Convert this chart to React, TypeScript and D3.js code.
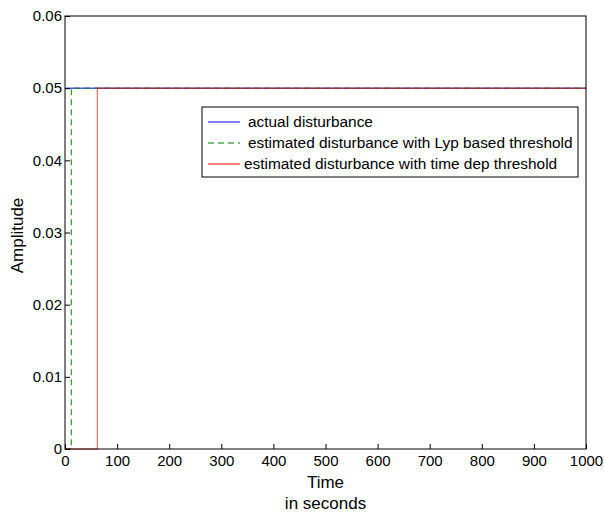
import * as d3 from "d3";
import { useEffect, useRef } from "react";

// step signals: [time, amplitude]
const actualDisturbance: [number, number][] = [[0, 0.05], [1000, 0.05]];
const lypEstimate: [number, number][] = [[0, 0], [12, 0], [12, 0.05], [1000, 0.05]];
const timeDepEstimate: [number, number][] = [[0, 0], [62, 0], [62, 0.05], [1000, 0.05]];

const xTicks = [0, 100, 200, 300, 400, 500, 600, 700, 800, 900, 1000];
const yTicks = [0, 0.01, 0.02, 0.03, 0.04, 0.05, 0.06];

const legendLabels = [
    "actual disturbance",
    "estimated disturbance with Lyp based threshold",
    "estimated disturbance with time dep threshold",
];

export default function App() {
    const svgRef = useRef<SVGSVGElement>(null);

    useEffect(() => {
        const svg = d3.select(svgRef.current);
        svg.selectAll("*").remove();

        const width = 604;
        const height = 515;
        const margin = { top: 16, right: 18, bottom: 66, left: 65 };
        const font = "Liberation Sans, Arial, sans-serif";

        const x = d3.scaleLinear()
            .domain([0, 1000])
            .range([margin.left, width - margin.right]);

        const y = d3.scaleLinear()
            .domain([0, 0.06])
            .range([height - margin.bottom, margin.top]);

        svg.append("rect")
            .attr("width", width)
            .attr("height", height)
            .attr("fill", "white");

        // Lines
        const line = d3.line<[number, number]>()
            .x(d => x(d[0]))
            .y(d => y(d[1]));

        svg.append("path")
            .datum(actualDisturbance)
            .attr("d", line)
            .attr("fill", "none")
            .attr("stroke", "#0000ff")
            .attr("stroke-width", 1);

        svg.append("path")
            .datum(lypEstimate)
            .attr("d", line)
            .attr("fill", "none")
            .attr("stroke", "#008000")
            .attr("stroke-dasharray", "6,4")
            .attr("stroke-width", 1);

        svg.append("path")
            .datum(timeDepEstimate)
            .attr("d", line)
            .attr("fill", "none")
            .attr("stroke", "#ff0000")
            .attr("stroke-opacity", 0.7)
            .attr("stroke-width", 1);

        // Axes
        svg.append("g")
            .attr("transform", `translate(0,${height - margin.bottom})`)
            .call(d3.axisBottom(x).tickValues(xTicks).tickSizeInner(-5).tickSizeOuter(0).tickPadding(6).tickFormat(d3.format("d")))
            .call(g => g.select(".domain").remove())
            .call(g => g.selectAll("text").attr("font-size", 15).attr("font-family", font).attr("fill", "#000"));

        svg.append("g")
            .attr("transform", `translate(${margin.left},0)`)
            .call(d3.axisLeft(y).tickValues(yTicks).tickSizeInner(-5).tickSizeOuter(0).tickPadding(3)
                .tickFormat(d => (d === 0 ? "0" : d3.format(".2f")(d as number))))
            .call(g => g.select(".domain").remove())
            .call(g => g.selectAll("text").attr("font-size", 15).attr("font-family", font).attr("fill", "#000"));

        // Box
        svg.append("rect")
            .attr("x", margin.left)
            .attr("y", margin.top)
            .attr("width", width - margin.left - margin.right)
            .attr("height", height - margin.top - margin.bottom)
            .attr("fill", "none")
            .attr("stroke", "#000")
            .attr("stroke-width", 1);

        // Axis titles
        svg.append("text")
            .attr("x", x(500))
            .attr("y", 488)
            .attr("text-anchor", "middle")
            .attr("font-size", 17)
            .attr("font-family", font)
            .text("Time");

        svg.append("text")
            .attr("x", x(500))
            .attr("y", 509)
            .attr("text-anchor", "middle")
            .attr("font-size", 17)
            .attr("font-family", font)
            .text("in seconds");

        svg.append("text")
            .attr("transform", `translate(23,${y(0.03) + 3}) rotate(-90)`)
            .attr("text-anchor", "middle")
            .attr("font-size", 17)
            .attr("font-family", font)
            .text("Amplitude");

        // Legend
        const legend = svg.append("g").attr("transform", "translate(202,107)");
        legend.append("rect")
            .attr("width", 376)
            .attr("height", 70)
            .attr("fill", "white")
            .attr("stroke", "#000")
            .attr("stroke-width", 1);

        const styles = [
            { color: "#0000ff", dash: null, tx: 46 },
            { color: "#008000", dash: "6,4", tx: 46 },
            { color: "#ff0000", dash: null, tx: 42 },
        ];

        legendLabels.forEach((label, i) => {
            const row = legend.append("g").attr("transform", `translate(0,${15 + i * 21})`);
            row.append("line")
                .attr("x1", 6)
                .attr("x2", 38)
                .attr("stroke", styles[i].color)
                .attr("stroke-dasharray", styles[i].dash)
                .attr("stroke-width", 1);
            row.append("text")
                .attr("x", styles[i].tx)
                .attr("y", 5)
                .attr("font-size", 15.4)
                .attr("font-family", font)
                .text(label);
        });
    }, []);

    return <svg ref={svgRef} width={604} height={515} style={{ display: "block", position: "absolute", left: 0, top: 0 }} />;
}
